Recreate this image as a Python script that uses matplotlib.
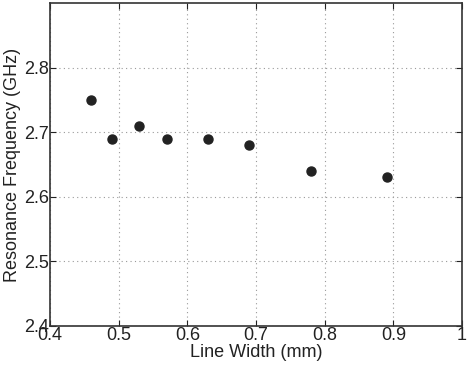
import matplotlib
matplotlib.use("Agg")
import matplotlib.pyplot as plt

line_width = [0.46, 0.49, 0.53, 0.57, 0.63, 0.69, 0.78, 0.89]
res_freq = [2.75, 2.69, 2.71, 2.69, 2.69, 2.68, 2.64, 2.63]
xticks = [0.4, 0.5, 0.6, 0.7, 0.8, 0.9, 1.0]
xtick_labels = ["0.4", "0.5", "0.6", "0.7", "0.8", "0.9", "1"]
yticks = [2.4, 2.5, 2.6, 2.7, 2.8]
ytick_labels = ["2.4", "2.5", "2.6", "2.7", "2.8"]

plt.rcParams['font.family'] = ['Liberation Sans', 'DejaVu Sans']
fig = plt.figure(figsize=(4.72, 3.70), dpi=100)
ax = fig.add_axes([0.106, 0.119, 0.873, 0.873])
ax.plot(line_width, res_freq, 'o', color='#222222', markersize=6.5, linestyle='none', zorder=3)
ax.set_xlim(0.4, 1.0)
ax.set_ylim(2.4, 2.9)
ax.set_xticks(xticks)
ax.set_xticklabels(xtick_labels)
ax.set_yticks(yticks)
ax.set_yticklabels(ytick_labels)
ax.grid(True, linestyle=(0, (1, 3)), color='#999999', linewidth=0.8)
ax.tick_params(direction='in', top=True, right=True, labelsize=13, length=4, pad=1, colors='#222222')
for s in ax.spines.values():
    s.set_color('#333333')
    s.set_linewidth(1.2)
ax.set_xlabel('Line Width (mm)', fontsize=13, labelpad=0, color='#222222')
ax.set_ylabel('Resonance Frequency (GHz)', fontsize=13, labelpad=2, color='#222222')
fig.savefig('out.png', dpi=100)
